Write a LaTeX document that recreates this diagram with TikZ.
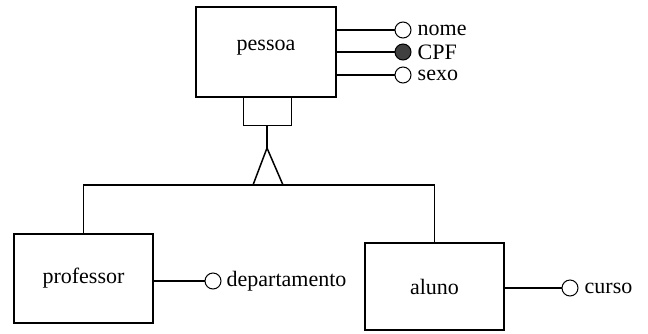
\documentclass[tikz,border=0pt]{standalone}
\usepackage{fontspec}
\setmainfont{Liberation Serif}
\begin{document}
\begin{tikzpicture}[x=1pt,y=-1pt,
  entity/.style={draw,line width=1.3pt,rectangle,inner sep=0pt,font=\fontsize{22}{25}\selectfont},
  attr/.style={draw,line width=1pt,circle,minimum size=16pt,inner sep=0pt,fill=white},
  keyattr/.style={attr,fill=black!75},
  lbl/.style={anchor=west,inner sep=0pt,xshift=6pt,font=\fontsize{22}{25}\selectfont},
  conn/.style={line width=1.1pt}]
\useasboundingbox (0,0) rectangle (648,333);
% entities
\node[entity,minimum width=140pt,minimum height=90pt] (pessoa) at (266,52) {};
\node[font=\fontsize{22}{25}\selectfont] at (266,48) {pessoa};
\node[entity,minimum width=139pt,minimum height=89pt] (professor) at (83.5,278.5) {professor};
\node[entity,minimum width=139pt,minimum height=87pt] (aluno) at (434.5,286.5) {aluno};
% attributes of pessoa
\node[attr] (nome) at (403,30) {};
\node[keyattr] (cpf) at (403,52) {};
\node[attr] (sexo) at (403,75) {};
\node[lbl] at (nome.east) {nome};
\node[lbl] at (cpf.east) {CPF};
\node[lbl] at (sexo.east) {sexo};
\draw[conn] (pessoa.east |- nome) -- (nome);
\draw[conn] (pessoa.east |- cpf) -- (cpf);
\draw[conn] (pessoa.east |- sexo) -- (sexo);
% attributes of subclasses
\node[attr] (dep) at (213,281) {};
\node[lbl,xshift=-1pt] at (dep.east) {departamento};
\draw[conn] (professor.east |- dep) -- (dep);
\node[attr] (curso) at (570,288) {};
\node[lbl] at (curso.east) {curso};
\draw[conn] (aluno.east |- curso) -- (curso);
% generalization
\node[draw,line width=1pt,rectangle,minimum width=48pt,minimum height=28pt,inner sep=0pt] (gen) at (267,111) {};
\coordinate (apex) at (267,148);
\coordinate (bl) at (253,185);
\coordinate (br) at (283,185);
\coordinate (hl) at (professor.north |- bl);
\coordinate (hr) at (aluno.north |- bl);
\draw[conn] (gen.south) -- (apex);
\draw[line width=1.5pt,line join=miter] (apex) -- (bl) -- (br) -- cycle;
\draw[conn] (professor.north) -- (hl) -- (hr) -- (aluno.north);
\end{tikzpicture}
\end{document}
